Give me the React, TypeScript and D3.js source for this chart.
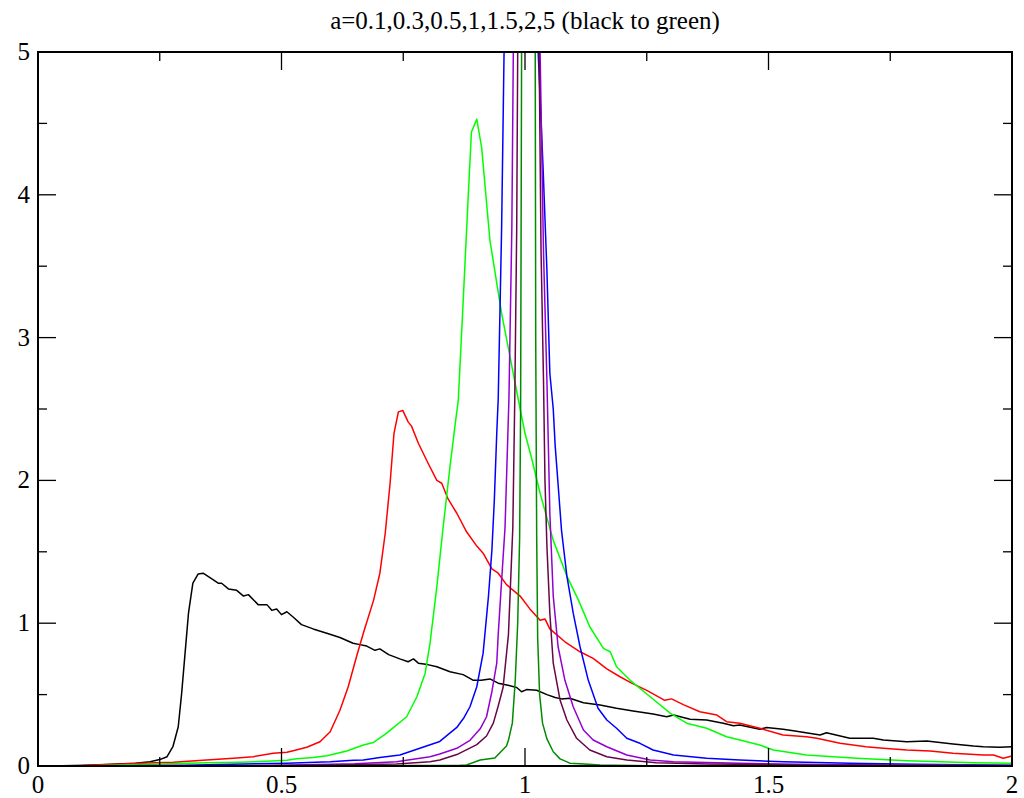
import React from "react";
import * as d3 from "d3";

const TITLE = "a=0.1,0.3,0.5,1,1.5,2,5 (black to green)";
const X_TICKS = [0, 0.5, 1, 1.5, 2];
const X_TICK_LABELS = ["0", "0.5", "1", "1.5", "2"];
const X_MINOR = [0.25, 0.75, 1.25, 1.75];
const Y_TICKS = [0, 1, 2, 3, 4, 5];
const Y_TICK_LABELS = ["0", "1", "2", "3", "4", "5"];
const Y_MINOR = [0.5, 1.5, 2.5, 3.5, 4.5];

type P = [number, number];

const a01: P[] = [
  [0.0, 0], [0.05, 0.002], [0.1, 0.006], [0.15, 0.012], [0.2, 0.02], [0.23, 0.03], [0.25, 0.045],
  [0.265, 0.065], [0.277, 0.135], [0.288, 0.275], [0.295, 0.51], [0.302, 0.79], [0.309, 1.07],
  [0.318, 1.28], [0.329, 1.345], [0.339, 1.35], [0.357, 1.31], [0.37, 1.28], [0.377, 1.28],
  [0.391, 1.24], [0.408, 1.23], [0.422, 1.19], [0.432, 1.2], [0.452, 1.13], [0.47, 1.13],
  [0.48, 1.09], [0.49, 1.1], [0.5, 1.06], [0.511, 1.08], [0.525, 1.04], [0.541, 0.99],
  [0.565, 0.96], [0.593, 0.93], [0.62, 0.9], [0.647, 0.86], [0.661, 0.85], [0.675, 0.84],
  [0.692, 0.81], [0.702, 0.82], [0.72, 0.78], [0.743, 0.75], [0.76, 0.73], [0.771, 0.75],
  [0.781, 0.72], [0.8, 0.71], [0.819, 0.695], [0.846, 0.66], [0.873, 0.64], [0.894, 0.6],
  [0.91, 0.6], [0.928, 0.61], [0.945, 0.58], [0.965, 0.565], [0.983, 0.55], [0.993, 0.52],
  [1.003, 0.535], [1.024, 0.53], [1.045, 0.5], [1.062, 0.48], [1.075, 0.47], [1.092, 0.475],
  [1.12, 0.443], [1.154, 0.427], [1.188, 0.404], [1.222, 0.385], [1.263, 0.364], [1.291, 0.345],
  [1.305, 0.357], [1.339, 0.327], [1.373, 0.322], [1.407, 0.3], [1.428, 0.282], [1.441, 0.287],
  [1.482, 0.257], [1.496, 0.27], [1.53, 0.257], [1.551, 0.247], [1.606, 0.217], [1.619, 0.233],
  [1.667, 0.194], [1.715, 0.194], [1.736, 0.182], [1.784, 0.17], [1.825, 0.175], [1.879, 0.154],
  [1.921, 0.14], [1.941, 0.135], [1.975, 0.131], [2.0, 0.135],
];

const a03: P[] = [
  [0.08, 0], [0.1, 0.005], [0.15, 0.01], [0.209, 0.02], [0.278, 0.026], [0.346, 0.042],
  [0.401, 0.054], [0.442, 0.065], [0.483, 0.089], [0.511, 0.096], [0.524, 0.107], [0.552, 0.131],
  [0.579, 0.17], [0.6, 0.24], [0.62, 0.39], [0.637, 0.555], [0.654, 0.765], [0.668, 0.93],
  [0.689, 1.16], [0.702, 1.35], [0.713, 1.63], [0.723, 1.98], [0.731, 2.33], [0.74, 2.48],
  [0.749, 2.49], [0.76, 2.41], [0.767, 2.38], [0.781, 2.26], [0.801, 2.12], [0.819, 2.0],
  [0.829, 1.98], [0.842, 1.87], [0.86, 1.77], [0.88, 1.64], [0.901, 1.54], [0.914, 1.49],
  [0.932, 1.38], [0.945, 1.35], [0.962, 1.27], [0.99, 1.19], [1.01, 1.1], [1.031, 1.02],
  [1.041, 1.03], [1.051, 0.96], [1.082, 0.87], [1.113, 0.8], [1.14, 0.754], [1.168, 0.68],
  [1.195, 0.625], [1.219, 0.58], [1.25, 0.53], [1.287, 0.46], [1.301, 0.47], [1.325, 0.43],
  [1.359, 0.38], [1.394, 0.357], [1.414, 0.31], [1.441, 0.3], [1.482, 0.264], [1.53, 0.217],
  [1.578, 0.205], [1.599, 0.194], [1.647, 0.16], [1.7, 0.135], [1.736, 0.124], [1.784, 0.112],
  [1.832, 0.105], [1.879, 0.089], [1.941, 0.077], [1.962, 0.077], [1.982, 0.054], [2.0, 0.07],
];

const a05: P[] = [
  [0.1, 0], [0.209, 0.01], [0.346, 0.022], [0.414, 0.026], [0.469, 0.033], [0.511, 0.04],
  [0.531, 0.05], [0.565, 0.06], [0.593, 0.072], [0.6, 0.077], [0.634, 0.105], [0.668, 0.147],
  [0.689, 0.165], [0.716, 0.23], [0.757, 0.345], [0.778, 0.485], [0.795, 0.65], [0.805, 0.86],
  [0.819, 1.256], [0.832, 1.676], [0.846, 2.096], [0.856, 2.376], [0.863, 2.56], [0.873, 3.25],
  [0.883, 3.96], [0.89, 4.44], [0.901, 4.53], [0.911, 4.33], [0.928, 3.68], [0.952, 3.17],
  [0.969, 2.87], [0.986, 2.57], [1.0, 2.33], [1.014, 2.15], [1.031, 1.91], [1.058, 1.58],
  [1.086, 1.33], [1.11, 1.16], [1.133, 0.975], [1.161, 0.824], [1.175, 0.8], [1.188, 0.695],
  [1.216, 0.6], [1.257, 0.485], [1.298, 0.37], [1.332, 0.3], [1.373, 0.264], [1.414, 0.205],
  [1.441, 0.182], [1.482, 0.147], [1.51, 0.112], [1.578, 0.077], [1.681, 0.054], [1.784, 0.037],
  [1.921, 0.023], [2.0, 0.02],
];

const a1: P[] = [
  [0.1, 0], [0.3, 0.005], [0.511, 0.02], [0.6, 0.03], [0.648, 0.04], [0.668, 0.042], [0.702, 0.06],
  [0.743, 0.077], [0.784, 0.124], [0.825, 0.172], [0.86, 0.27], [0.875, 0.34], [0.887, 0.415],
  [0.901, 0.555], [0.914, 0.79], [0.925, 1.19], [0.932, 1.51], [0.937, 1.86], [0.942, 2.33],
  [0.945, 2.57], [0.952, 3.77], [0.957, 5.0], [0.98, 12], [1.0, 20], [1.015, 12], [1.027, 5.0],
  [1.037, 4.2], [1.045, 3.47], [1.051, 2.75], [1.058, 2.5], [1.062, 2.24], [1.068, 1.97],
  [1.075, 1.65], [1.086, 1.33], [1.099, 1.07], [1.113, 0.835], [1.13, 0.6], [1.15, 0.404],
  [1.168, 0.322], [1.188, 0.264], [1.209, 0.194], [1.236, 0.159], [1.263, 0.112], [1.305, 0.077],
  [1.373, 0.054], [1.441, 0.042], [1.53, 0.03], [1.667, 0.02], [1.8, 0.012], [2.0, 0.006],
];

const a15: P[] = [
  [0.2, 0], [0.5, 0.005], [0.65, 0.015], [0.736, 0.03], [0.805, 0.065], [0.825, 0.084],
  [0.86, 0.124], [0.887, 0.18], [0.908, 0.26], [0.921, 0.345], [0.932, 0.52], [0.942, 0.72],
  [0.945, 0.92], [0.952, 1.3], [0.959, 1.67], [0.967, 2.57], [0.973, 3.77], [0.976, 5.0],
  [0.99, 15], [1.0, 30], [1.015, 15], [1.031, 5.0], [1.038, 3.6], [1.045, 2.7], [1.048, 2.24],
  [1.051, 1.77], [1.058, 1.19], [1.068, 0.835], [1.082, 0.6], [1.099, 0.415], [1.12, 0.252],
  [1.14, 0.182], [1.168, 0.135], [1.209, 0.077], [1.257, 0.042], [1.305, 0.03], [1.441, 0.019],
  [1.6, 0.01], [2.0, 0.004],
];

const a2: P[] = [
  [0.3, 0], [0.5, 0.003], [0.65, 0.008], [0.736, 0.014], [0.805, 0.03], [0.825, 0.042],
  [0.86, 0.08], [0.901, 0.15], [0.921, 0.21], [0.935, 0.3], [0.945, 0.42], [0.955, 0.55],
  [0.966, 0.92], [0.975, 1.67], [0.979, 2.57], [0.983, 3.77], [0.985, 5.0], [1.0, 40],
  [1.015, 12], [1.029, 5.0], [1.033, 3.6], [1.038, 2.7], [1.041, 2.0], [1.045, 1.54],
  [1.051, 1.07], [1.058, 0.72], [1.072, 0.462], [1.086, 0.322], [1.106, 0.194], [1.133, 0.112],
  [1.168, 0.065], [1.209, 0.042], [1.27, 0.023], [1.373, 0.014], [1.6, 0.006], [2.0, 0.002],
];

const a5: P[] = [
  [0.5, 0], [0.867, 0.005], [0.88, 0.007], [0.908, 0.042], [0.938, 0.056], [0.955, 0.115],
  [0.962, 0.14], [0.966, 0.18], [0.974, 0.3], [0.98, 0.6], [0.985, 1.0], [0.989, 1.6],
  [0.991, 2.5], [0.993, 5.0], [1.0, 60], [1.02, 6.0], [1.021, 5.0], [1.022, 3.0], [1.024, 1.6],
  [1.026, 0.9], [1.03, 0.5], [1.036, 0.3], [1.045, 0.19], [1.058, 0.1], [1.072, 0.05],
  [1.092, 0.02], [1.113, 0.015], [1.154, 0.007], [1.25, 0.002], [2.0, 0],
];

const SERIES: { data: P[]; color: string }[] = [
  { data: a01, color: "#000000" },
  { data: a03, color: "#ff0000" },
  { data: a05, color: "#00ff00" },
  { data: a1, color: "#0000ff" },
  { data: a15, color: "#9400d3" },
  { data: a2, color: "#670748" },
  { data: a5, color: "#008b00" },
];

const W = 1024;
const H = 798;
const L = 38;
const R = 1012;
const T = 52;
const B = 766;
const FONT = "Liberation Serif, Times New Roman, DejaVu Serif, serif";

export default function App() {
  const x = d3.scaleLinear().domain([0, 2]).range([L, R]);
  const y = d3.scaleLinear().domain([0, 5]).range([B, T]);
  const line = d3
    .line<P>()
    .x((d) => x(d[0]))
    .y((d) => y(d[1]));
  const major = 18;
  const minor = 9;
  return (
    <div style={{ position: "absolute", left: 0, top: 0 }}>
      <svg width={W} height={H} style={{ display: "block", background: "#fff" }}>
        <defs>
          <clipPath id="plotclip">
            <rect x={L} y={T} width={R - L} height={B - T} />
          </clipPath>
        </defs>
        <rect x={0} y={0} width={W} height={H} fill="#fff" />
        <g clipPath="url(#plotclip)">
          {SERIES.map((s, i) => (
            <path key={i} d={line(s.data) || ""} fill="none" stroke={s.color} strokeWidth={1.5} strokeLinejoin="round" />
          ))}
        </g>
        <g stroke="#000" strokeWidth={1.3}>
          {X_TICKS.map((v, i) => (
            <g key={"xt" + i}>
              <line x1={x(v)} x2={x(v)} y1={B} y2={B - major} />
              <line x1={x(v)} x2={x(v)} y1={T} y2={T + major} />
            </g>
          ))}
          {X_MINOR.map((v, i) => (
            <g key={"xm" + i}>
              <line x1={x(v)} x2={x(v)} y1={B} y2={B - minor} />
              <line x1={x(v)} x2={x(v)} y1={T} y2={T + minor} />
            </g>
          ))}
          {Y_TICKS.map((v, i) => (
            <g key={"yt" + i}>
              <line x1={L} x2={L + major} y1={y(v)} y2={y(v)} />
              <line x1={R} x2={R - major} y1={y(v)} y2={y(v)} />
            </g>
          ))}
          {Y_MINOR.map((v, i) => (
            <g key={"ym" + i}>
              <line x1={L} x2={L + minor} y1={y(v)} y2={y(v)} />
              <line x1={R} x2={R - minor} y1={y(v)} y2={y(v)} />
            </g>
          ))}
        </g>
        <rect x={L} y={T} width={R - L} height={B - T} fill="none" stroke="#000" strokeWidth={2} />
        <g style={{ fontFamily: FONT, fontSize: "25px" }} fill="#000">
          {X_TICKS.map((v, i) => (
            <text key={"xl" + i} x={x(v)} y={B + 27} textAnchor="middle">
              {X_TICK_LABELS[i]}
            </text>
          ))}
          {Y_TICKS.map((v, i) => (
            <text key={"yl" + i} x={L - 8} y={y(v) + 8} textAnchor="end">
              {Y_TICK_LABELS[i]}
            </text>
          ))}
          <text x={(L + R) / 2} y={29} textAnchor="middle">
            {TITLE}
          </text>
        </g>
      </svg>
    </div>
  );
}
